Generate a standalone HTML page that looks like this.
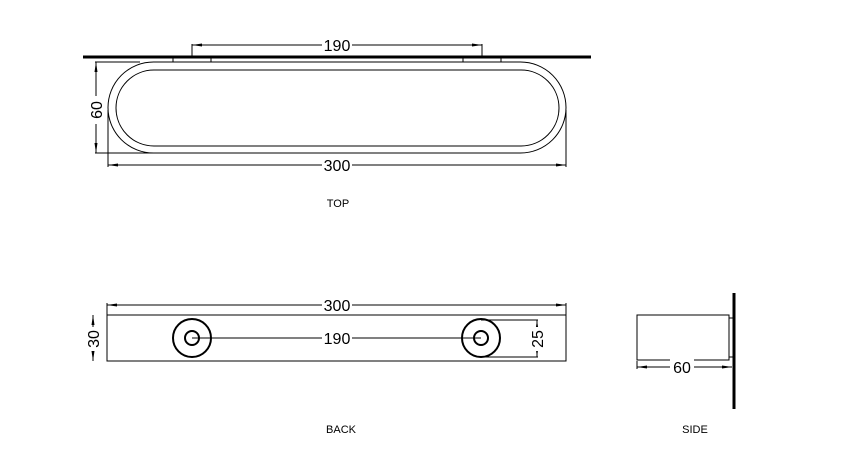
<!DOCTYPE html>
<html><head><style>body{margin:0;background:#fff}svg{display:block}</style></head><body>
<svg width="843" height="475" viewBox="0 0 843 475" xmlns="http://www.w3.org/2000/svg" font-family="Liberation Sans, sans-serif">
<defs><marker id="a" viewBox="0 0 10 6" refX="10" refY="3" markerWidth="10" markerHeight="6" orient="auto-start-reverse" markerUnits="userSpaceOnUse"><path d="M0,1.5 L10,3 L0,4.5Z" fill="#000"/></marker></defs>
<g stroke="#000" fill="none" stroke-width="1">
<!-- TOP -->
<line x1="83" y1="57" x2="591" y2="57" stroke-width="3"/>
<line x1="192" y1="45" x2="482" y2="45" marker-start="url(#a)" marker-end="url(#a)"/>
<line x1="192" y1="44" x2="192" y2="57"/><line x1="482" y1="44" x2="482" y2="57"/>
<line x1="173" y1="57" x2="173" y2="62"/><line x1="211" y1="57" x2="211" y2="62"/>
<line x1="463" y1="57" x2="463" y2="62"/><line x1="501" y1="57" x2="501" y2="62"/>
<rect x="108" y="62" width="458" height="91" rx="45.5"/>
<rect x="116" y="70" width="443" height="76" rx="38"/>
<line x1="96" y1="62" x2="96" y2="153" marker-start="url(#a)" marker-end="url(#a)"/>
<line x1="95" y1="62" x2="140" y2="62"/><line x1="95" y1="153" x2="153" y2="153"/>
<line x1="108" y1="165" x2="566" y2="165" marker-start="url(#a)" marker-end="url(#a)"/>
<line x1="108" y1="110" x2="108" y2="167"/><line x1="566" y1="110" x2="566" y2="167"/>
<!-- BACK -->
<rect x="107" y="315" width="459" height="46"/>
<line x1="107" y1="305" x2="566" y2="305" marker-start="url(#a)" marker-end="url(#a)"/>
<line x1="107" y1="303" x2="107" y2="315"/><line x1="566" y1="303" x2="566" y2="315"/>
<line x1="93" y1="315" x2="93" y2="361" marker-start="url(#a)" marker-end="url(#a)"/>
<circle cx="192" cy="338" r="19" stroke-width="2"/><circle cx="192" cy="338" r="7" stroke-width="2"/>
<circle cx="481" cy="338" r="19" stroke-width="2"/><circle cx="481" cy="338" r="7" stroke-width="2"/>
<line x1="192" y1="338" x2="481" y2="338"/>
<line x1="481" y1="320" x2="538" y2="320"/><line x1="481" y1="357" x2="538" y2="357"/>
<line x1="537" y1="320" x2="537" y2="357" marker-start="url(#a)" marker-end="url(#a)"/>
<!-- SIDE -->
<rect x="637" y="315" width="92" height="45"/>
<rect x="729" y="318" width="4" height="39"/>
<line x1="734" y1="293" x2="734" y2="409" stroke-width="3"/>
<line x1="637" y1="361" x2="637" y2="369"/>
<line x1="637" y1="367" x2="732" y2="367" marker-start="url(#a)" marker-end="url(#a)"/>
</g>
<g font-size="16" text-anchor="middle" fill="#000">
<rect x="322" y="36" width="30" height="18" fill="#fff"/><text x="337" y="51">190</text>
<rect x="322" y="156" width="30" height="18" fill="#fff"/><text x="337" y="171">300</text>
<rect x="87" y="96" width="18" height="28" fill="#fff"/><text transform="translate(102,110) rotate(-90)">60</text>
<rect x="322" y="296" width="30" height="18" fill="#fff"/><text x="337" y="311">300</text>
<rect x="322" y="329" width="30" height="18" fill="#fff"/><text x="337" y="344">190</text>
<rect x="84" y="327" width="18" height="24" fill="#fff"/><text transform="translate(99,339) rotate(-90)">30</text>
<rect x="528" y="327" width="18" height="24" fill="#fff"/><text transform="translate(543,339) rotate(-90)">25</text>
<rect x="670" y="358" width="24" height="18" fill="#fff"/><text x="682" y="373">60</text>
<text x="338" y="207" font-size="11">TOP</text>
<text x="341" y="433" font-size="11">BACK</text>
<text x="695" y="433" font-size="11">SIDE</text>
</g>
</svg>
</body></html>
